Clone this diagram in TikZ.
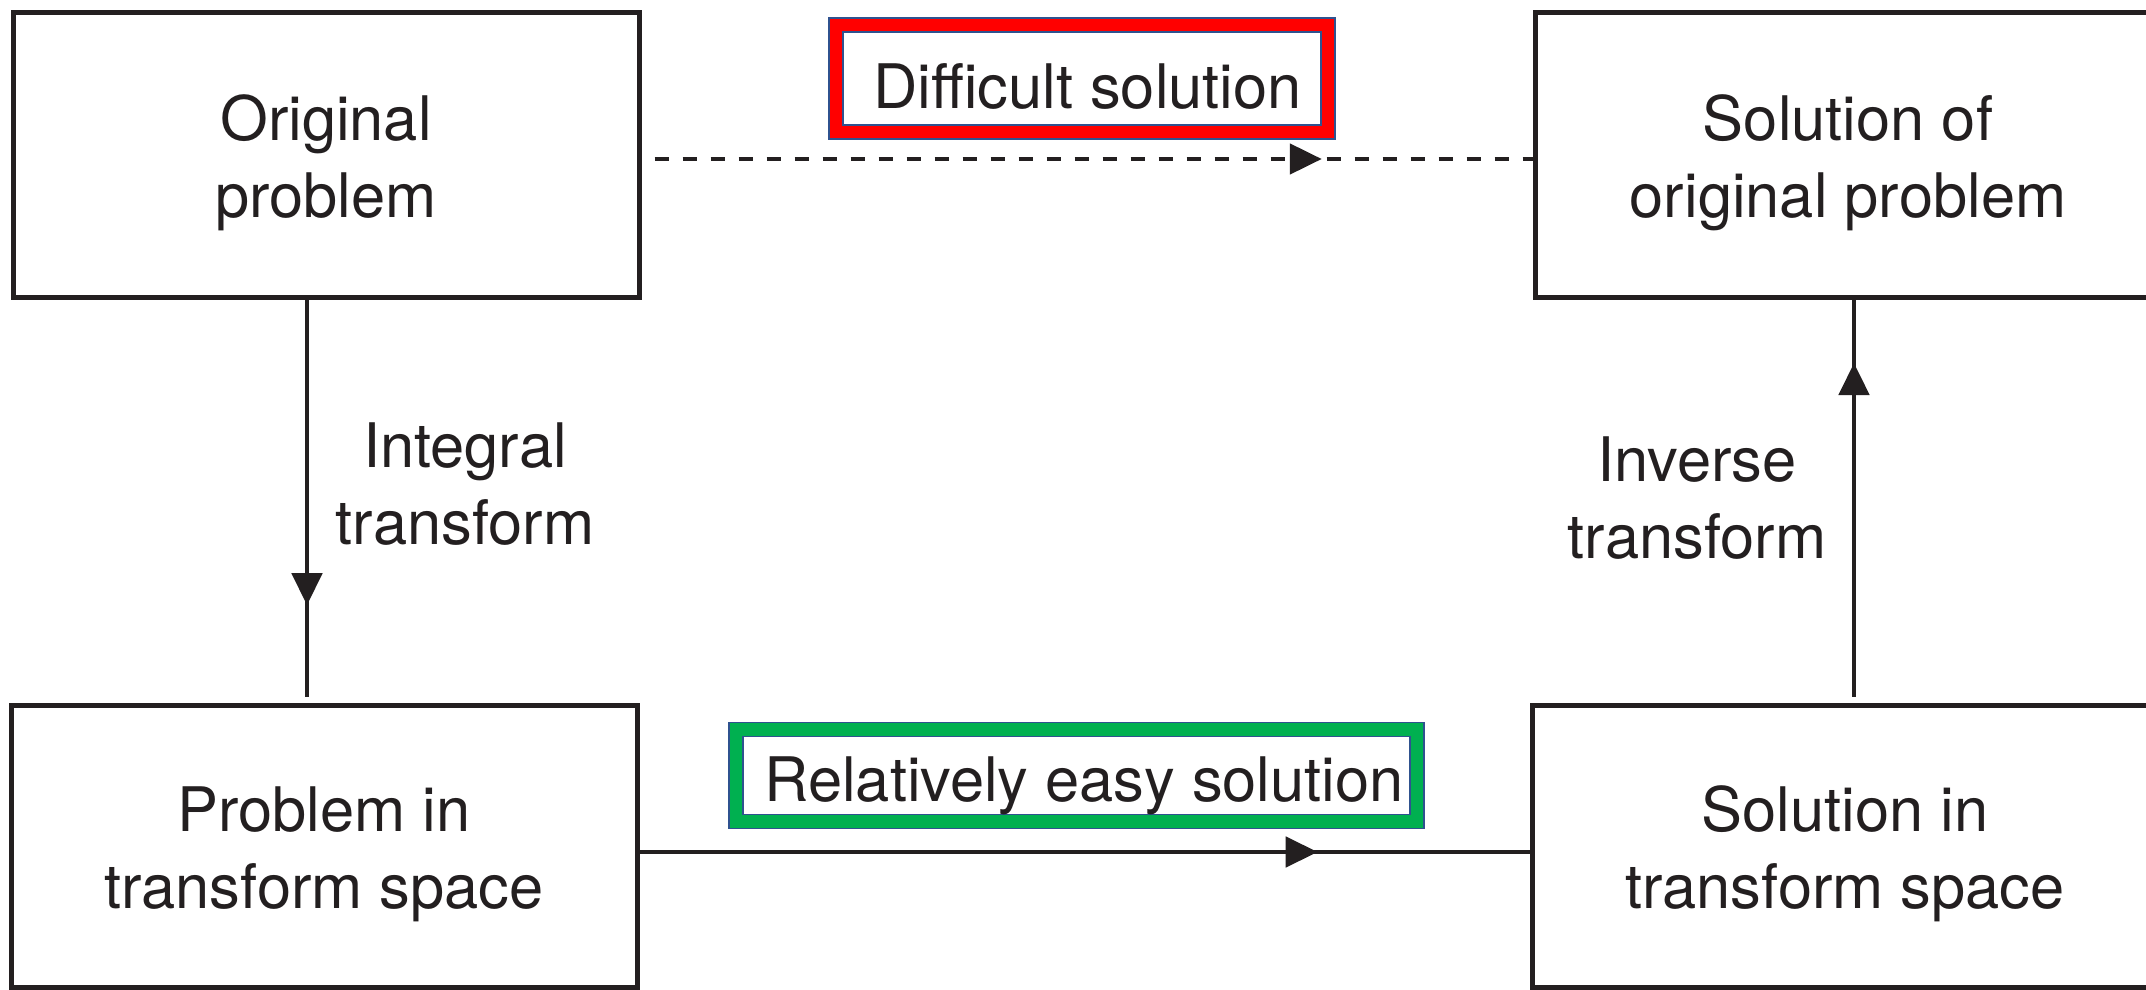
\documentclass[tikz,border=0pt]{standalone}
\usepackage{fontspec}
\setmainfont{TeX Gyre Heros}
\usetikzlibrary{arrows.meta,decorations.markings}
\definecolor{ink}{HTML}{231F20}
\definecolor{bord}{HTML}{2F528F}
\definecolor{hired}{HTML}{FF0000}
\definecolor{higreen}{HTML}{00B050}
\begin{document}
\begin{tikzpicture}[x=0.5pt,y=-0.5pt,
  lbl/.style={align=center, font=\fontsize{30.7}{38.5}\selectfont, text=ink, inner sep=0pt},
  box/.style={draw=ink, line width=2.5pt, minimum width=313pt, minimum height=142pt,
    inner sep=0pt, label={[lbl, yshift=-4pt]center:#1}},
  conn/.style={draw=ink, line width=2.4pt},
  tipmark/.style={postaction={decorate}, decoration={markings,
    mark=at position #1 with {\arrow{Triangle[length=16pt,width=15pt]}}}},
  hibox/.style={draw=bord, line width=0.6pt, double=#1, double distance=6.4pt,
    fill=white, inner sep=0pt},
]
\clip (0,0) rectangle (2146,990);
\fill[white] (0,0) rectangle (2146,990);

\node[box={Original\\problem}] (op) at (326,155) {};
\node[box={Solution of\\original problem}] (sop) at (1848,155) {};
\node[box={Problem in\\transform space}, minimum height=141pt] (pts) at (324,846) {};
\node[box={Solution in\\transform space}, minimum height=141pt] (sts) at (1845,846) {};

\draw[conn, dash pattern=on 7pt off 7pt, tipmark=0.76]
  ([xshift=6.5pt,yshift=-2pt]op.east) -- ([yshift=-2pt]sop.west);
\draw[conn, tipmark=0.762]
  ([yshift=-3pt]pts.east) -- ([yshift=-3pt]sts.west);
\draw[conn, tipmark=0.77]
  ([xshift=-9.5pt]op.south) -- ([xshift=-8.5pt,yshift=3pt]pts.north);
\draw[conn, tipmark=0.84]
  ([xshift=4.5pt,yshift=3pt]sts.north) -- ([xshift=3pt]sop.south);

\node[hibox=hired, minimum width=246pt, minimum height=53.5pt] (diffbox) at (1082,78.5) {};
\node[lbl, anchor=base] (diff) at (1087.5,109) {Difficult solution};
\node[hibox=higreen, minimum width=340.5pt, minimum height=46pt] (easybox) at (1076.5,775.5) {};
\node[lbl, anchor=base] (easy) at (1084,801) {Relatively easy solution};

\node[lbl] (intl) at (465,484) {Integral\\transform};
\node[lbl] (invl) at (1697,498) {Inverse\\transform};
\end{tikzpicture}
\end{document}
